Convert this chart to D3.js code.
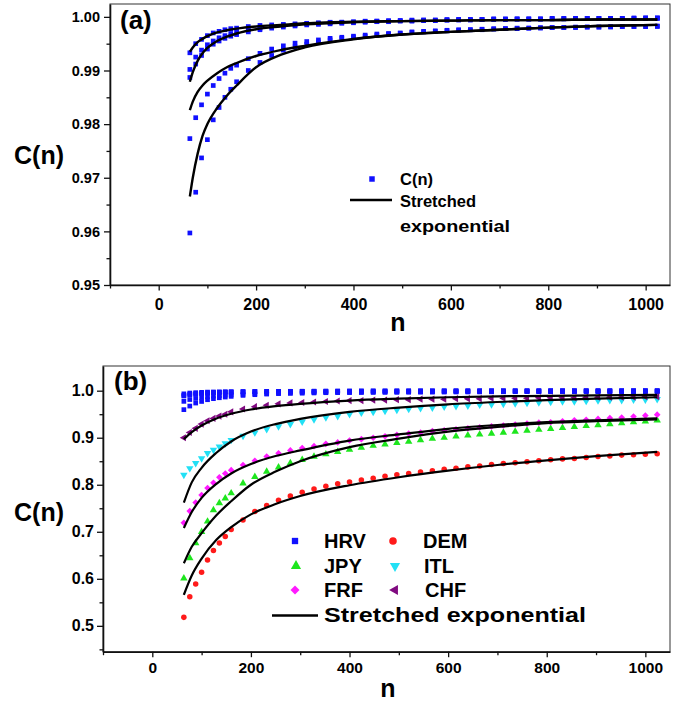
<!DOCTYPE html>
<html>
<head>
<meta charset="utf-8">
<script src="https://cdn.jsdelivr.net/npm/d3@7"></script>
<style>
  body { margin: 0; background: #fff; }
  svg text { font-family: "Liberation Sans", Arial, sans-serif; font-weight: bold; fill: #000; }
</style>
</head>
<body>
<div id="chart"></div>
<script>
// window sizes n (same for every series)
const nValues = [
  64, 76, 88, 100, 112, 124, 136, 148, 160,
  184, 208, 232, 256, 280, 304, 328, 352, 376,
  400, 424, 448, 472, 496, 520, 544, 568, 592,
  616, 640, 664, 688, 712, 736, 760, 784, 808,
  832, 856, 880, 904, 928, 952, 976, 1000, 1024,
];

// HRV series (panel a, also HRV in panel b)
const hrv1 = [
  0.9933, 0.9950, 0.9958, 0.9965, 0.9970, 0.9973, 0.9976, 0.9978, 0.9979,
  0.9982, 0.9984, 0.9985, 0.9986, 0.9987, 0.9988, 0.9989, 0.9990, 0.9990,
  0.9991, 0.9992, 0.9992, 0.9993, 0.9993, 0.9994, 0.9994, 0.9994, 0.9995,
  0.9995, 0.9995, 0.9995, 0.9996, 0.9996, 0.9996, 0.9996, 0.9996, 0.9997,
  0.9997, 0.9997, 0.9997, 0.9997, 0.9997, 0.9997, 0.9998, 0.9998, 0.9998,
];
const hrv2 = [
  0.9902, 0.9925, 0.9938, 0.9948, 0.9955, 0.9961, 0.9965, 0.9969, 0.9972,
  0.9976, 0.9979, 0.9982, 0.9984, 0.9985, 0.9987, 0.9988, 0.9989, 0.9990,
  0.9990, 0.9991, 0.9992, 0.9992, 0.9993, 0.9993, 0.9994, 0.9994, 0.9994,
  0.9995, 0.9995, 0.9995, 0.9996, 0.9996, 0.9996, 0.9996, 0.9996, 0.9997,
  0.9997, 0.9997, 0.9997, 0.9997, 0.9997, 0.9997, 0.9997, 0.9998, 0.9998,
];
const hrv3 = [
  0.9887, 0.9912, 0.9928, 0.9940, 0.9949, 0.9955, 0.9960, 0.9964, 0.9967,
  0.9972, 0.9976, 0.9979, 0.9981, 0.9983, 0.9985, 0.9986, 0.9987, 0.9988,
  0.9989, 0.9990, 0.9991, 0.9991, 0.9992, 0.9992, 0.9993, 0.9993, 0.9994,
  0.9994, 0.9994, 0.9995, 0.9995, 0.9995, 0.9996, 0.9996, 0.9996, 0.9996,
  0.9996, 0.9997, 0.9997, 0.9997, 0.9997, 0.9997, 0.9997, 0.9997, 0.9997,
];
const hrv4 = [
  0.9773, 0.9812, 0.9836, 0.9856, 0.9872, 0.9885, 0.9895, 0.9904, 0.9910,
  0.9922, 0.9932, 0.9940, 0.9946, 0.9951, 0.9954, 0.9957, 0.9960, 0.9962,
  0.9964, 0.9966, 0.9968, 0.9969, 0.9970, 0.9972, 0.9973, 0.9974, 0.9975,
  0.9976, 0.9976, 0.9977, 0.9978, 0.9978, 0.9979, 0.9979, 0.9980, 0.9980,
  0.9980, 0.9981, 0.9981, 0.9981, 0.9982, 0.9982, 0.9982, 0.9982, 0.9983,
];
const hrv5 = [
  0.9597, 0.9673, 0.9737, 0.9771, 0.9808, 0.9831, 0.9850, 0.9865, 0.9879,
  0.9900, 0.9915, 0.9928, 0.9938, 0.9944, 0.9949, 0.9953, 0.9957, 0.9960,
  0.9962, 0.9964, 0.9966, 0.9968, 0.9969, 0.9971, 0.9972, 0.9973, 0.9974,
  0.9975, 0.9976, 0.9976, 0.9977, 0.9978, 0.9978, 0.9979, 0.9979, 0.9980,
  0.9980, 0.9980, 0.9981, 0.9981, 0.9981, 0.9982, 0.9982, 0.9982, 0.9982,
];

// currency series (panel b)
const demValues = [
  0.518, 0.562, 0.589, 0.614, 0.640, 0.660, 0.676, 0.690, 0.705,
  0.725, 0.743, 0.756, 0.767, 0.776, 0.784, 0.791, 0.797, 0.802,
  0.806, 0.810, 0.814, 0.818, 0.821, 0.824, 0.827, 0.830, 0.833,
  0.835, 0.838, 0.840, 0.843, 0.845, 0.847, 0.849, 0.851, 0.853,
  0.855, 0.856, 0.858, 0.860, 0.861, 0.863, 0.864, 0.865, 0.866,
];
const jpyValues = [
  0.601, 0.644, 0.676, 0.700, 0.722, 0.746, 0.761, 0.771, 0.782,
  0.803, 0.817, 0.828, 0.837, 0.846, 0.853, 0.860, 0.865, 0.870,
  0.875, 0.879, 0.883, 0.886, 0.889, 0.892, 0.895, 0.898, 0.900,
  0.903, 0.905, 0.907, 0.909, 0.911, 0.913, 0.915, 0.917, 0.919,
  0.921, 0.923, 0.925, 0.927, 0.929, 0.931, 0.933, 0.935, 0.937,
];
const itlValues = [
  0.821, 0.835, 0.846, 0.856, 0.867, 0.874, 0.881, 0.888, 0.895,
  0.904, 0.911, 0.918, 0.924, 0.929, 0.934, 0.939, 0.943, 0.946,
  0.950, 0.953, 0.955, 0.957, 0.959, 0.961, 0.963, 0.964, 0.966,
  0.967, 0.968, 0.970, 0.971, 0.972, 0.973, 0.974, 0.975, 0.976,
  0.977, 0.977, 0.978, 0.979, 0.980, 0.980, 0.981, 0.981, 0.982,
];
const frfValues = [
  0.719, 0.744, 0.762, 0.778, 0.793, 0.804, 0.816, 0.824, 0.831,
  0.842, 0.851, 0.860, 0.867, 0.873, 0.878, 0.882, 0.887, 0.890,
  0.894, 0.897, 0.900, 0.903, 0.906, 0.909, 0.911, 0.914, 0.916,
  0.918, 0.920, 0.922, 0.924, 0.926, 0.928, 0.930, 0.932, 0.933,
  0.935, 0.937, 0.938, 0.940, 0.942, 0.943, 0.945, 0.947, 0.949,
];
const chfValues = [
  0.900, 0.911, 0.920, 0.929, 0.936, 0.941, 0.946, 0.950, 0.955,
  0.961, 0.966, 0.969, 0.972, 0.974, 0.975, 0.976, 0.977, 0.978,
  0.979, 0.979, 0.980, 0.980, 0.981, 0.981, 0.982, 0.982, 0.982,
  0.983, 0.983, 0.983, 0.984, 0.984, 0.984, 0.984, 0.985, 0.985,
  0.985, 0.985, 0.986, 0.986, 0.986, 0.986, 0.986, 0.987, 0.987,
];

// stretched exponential fits
const fitNA = [64, 70, 80, 90, 100, 120, 140, 160, 200, 250, 300, 400, 500, 600, 700, 800, 900, 1024];
const fitA1 = [0.9935, 0.9943, 0.9953, 0.9959, 0.9964, 0.9971, 0.9975, 0.9978, 0.9982, 0.9985, 0.9988, 0.9991, 0.9992, 0.9993, 0.9994, 0.9994, 0.9995, 0.9995];
const fitA2 = [0.9879, 0.9897, 0.9918, 0.9932, 0.9942, 0.9955, 0.9963, 0.9969, 0.9977, 0.9982, 0.9986, 0.9990, 0.9992, 0.9993, 0.9994, 0.9994, 0.9995, 0.9995];
const fitA3 = [0.9826, 0.9842, 0.9860, 0.9872, 0.9881, 0.9895, 0.9906, 0.9914, 0.9927, 0.9938, 0.9946, 0.9959, 0.9967, 0.9972, 0.9976, 0.9980, 0.9983, 0.9985];
const fitA4 = [0.9665, 0.9700, 0.9745, 0.9778, 0.9800, 0.9830, 0.9853, 0.9872, 0.9906, 0.9929, 0.9943, 0.9958, 0.9967, 0.9972, 0.9976, 0.9980, 0.9983, 0.9985];

const fitNB = [64, 80, 100, 130, 160, 200, 250, 300, 400, 500, 600, 700, 800, 900, 1024];
const chfFit = [0.897, 0.912, 0.926, 0.941, 0.951, 0.960, 0.967, 0.972, 0.979, 0.983, 0.986, 0.988, 0.989, 0.990, 0.991];
const itlFit = [0.762, 0.805, 0.836, 0.868, 0.892, 0.913, 0.929, 0.940, 0.955, 0.964, 0.971, 0.976, 0.980, 0.983, 0.986];
const frfFit = [0.708, 0.742, 0.772, 0.802, 0.824, 0.844, 0.861, 0.873, 0.894, 0.907, 0.919, 0.927, 0.933, 0.937, 0.941];
const jpyFit = [0.633, 0.668, 0.697, 0.735, 0.765, 0.800, 0.828, 0.850, 0.880, 0.898, 0.913, 0.923, 0.931, 0.935, 0.939];
const demFit = [0.566, 0.607, 0.643, 0.683, 0.710, 0.737, 0.759, 0.776, 0.799, 0.816, 0.830, 0.842, 0.852, 0.861, 0.870];

// ticks
const xMajor = [0, 200, 400, 600, 800, 1000];
const xMinor = [-100, 100, 300, 500, 700, 900];
const yMajorA = [0.95, 0.96, 0.97, 0.98, 0.99, 1.00];
const yMinorA = [0.955, 0.965, 0.975, 0.985, 0.995];
const yMajorB = [0.5, 0.6, 0.7, 0.8, 0.9, 1.0];
const yMinorB = [0.45, 0.55, 0.65, 0.75, 0.85, 0.95];

const BLUE = '#1010ff';
const shapeType = {
  square: d3.symbolSquare, circle: d3.symbolCircle, up: d3.symbolTriangle,
  down: d3.symbolTriangle, left: d3.symbolTriangle, diamond: d3.symbolSquare,
};
const shapeTurn = { square: 0, circle: 0, up: 0, down: 180, left: -90, diamond: 45 };

class CorrelationPanel {
  constructor(_config, marks, fits) {
    this.config = {
      svg: _config.svg,
      left: _config.left,
      top: _config.top,
      width: _config.width,
      height: _config.height,
      yDomain: _config.yDomain,
      yMajor: _config.yMajor,
      yMinor: _config.yMinor,
      yFormat: _config.yFormat,
      yFont: _config.yFont,
      xFont: _config.xFont,
      xPad: _config.xPad,
      yPad: _config.yPad,
      tag: _config.tag,
      tagX: _config.tagX,
      tagY: _config.tagY,
      yLabelY: _config.yLabelY,
      xLabelX: _config.xLabelX,
      xLabelY: _config.xLabelY,
      fitWidth: _config.fitWidth,
    };
    this.marks = marks;
    this.fits = fits;
    this.initVis();
  }

  initVis() {
    const vis = this;
    const cfg = vis.config;

    vis.chartArea = cfg.svg.append('g')
      .attr('transform', `translate(${cfg.left},${cfg.top})`);

    vis.xScale = d3.scaleLinear().domain([-100, 1050]).range([0, cfg.width]);
    vis.yScale = d3.scaleLinear().domain(cfg.yDomain).range([cfg.height, 0]);

    vis.chartArea.append('rect')
      .attr('width', cfg.width)
      .attr('height', cfg.height)
      .attr('fill', 'none')
      .attr('stroke', '#333')
      .attr('stroke-width', 1);

    // minor ticks
    vis.chartArea.append('g')
      .attr('transform', `translate(0,${cfg.height})`)
      .call(d3.axisBottom(vis.xScale).tickValues(xMinor).tickSize(3.5).tickFormat(''))
      .call((g) => g.select('.domain').remove());
    vis.chartArea.append('g')
      .call(d3.axisLeft(vis.yScale).tickValues(cfg.yMinor).tickSize(3.5).tickFormat(''))
      .call((g) => g.select('.domain').remove());

    vis.xAxisG = vis.chartArea.append('g')
      .attr('transform', `translate(0,${cfg.height})`)
      .call(d3.axisBottom(vis.xScale).tickValues(xMajor).tickSize(5.5)
        .tickSizeOuter(0).tickPadding(cfg.xPad).tickFormat(d3.format('d')));
    vis.yAxisG = vis.chartArea.append('g')
      .call(d3.axisLeft(vis.yScale).tickValues(cfg.yMajor).tickSize(6)
        .tickSizeOuter(0).tickPadding(cfg.yPad).tickFormat(d3.format(cfg.yFormat)));

    vis.chartArea.selectAll('.tick line').attr('stroke', '#111').attr('stroke-width', 1.3);
    vis.chartArea.selectAll('.domain').attr('stroke', '#111').attr('stroke-width', 1.6);
    vis.xAxisG.selectAll('text').style('font-size', `${cfg.xFont}px`);
    vis.yAxisG.selectAll('text').style('font-size', `${cfg.yFont}px`);

    cfg.svg.append('text')
      .attr('x', 39)
      .attr('y', cfg.yLabelY)
      .attr('dy', '0.35em')
      .attr('text-anchor', 'middle')
      .style('font-size', '25px')
      .text('C(n)');

    cfg.svg.append('text')
      .attr('x', cfg.xLabelX)
      .attr('y', cfg.xLabelY)
      .attr('text-anchor', 'middle')
      .style('font-size', '25px')
      .text('n');

    cfg.svg.append('text')
      .attr('x', cfg.tagX)
      .attr('y', cfg.tagY)
      .style('font-size', '26px')
      .text(cfg.tag);

    vis.renderVis();
  }

  renderVis() {
    const vis = this;

    vis.marks.forEach((s) => {
      const path = d3.symbol(shapeType[s.shape], s.size)();
      vis.chartArea.append('g')
        .selectAll('path')
        .data(s.values.map((v, i) => ({ n: nValues[i], v })))
        .join('path')
        .attr('d', path)
        .attr('fill', s.color)
        .attr('transform', (d) => `translate(${vis.xScale(d.n)},${vis.yScale(d.v)}) rotate(${shapeTurn[s.shape]})`);
    });

    const line = d3.line()
      .x((d) => vis.xScale(d.n))
      .y((d) => vis.yScale(d.v))
      .curve(d3.curveMonotoneX);

    vis.fits.forEach((f) => {
      vis.chartArea.append('path')
        .datum(f.values.map((v, i) => ({ n: f.n[i], v })))
        .attr('d', line)
        .attr('fill', 'none')
        .attr('stroke', '#000')
        .attr('stroke-width', vis.config.fitWidth);
    });
  }
}

function legendMark(svg, shape, color, size, x, y) {
  svg.append('path')
    .attr('d', d3.symbol(shapeType[shape], size)())
    .attr('fill', color)
    .attr('transform', `translate(${x},${y}) rotate(${shapeTurn[shape]})`);
}

function legendText(svg, text, x, y, size, stretch) {
  const t = svg.append('text')
    .attr('x', x)
    .attr('y', y)
    .attr('dy', '0.36em')
    .style('font-size', `${size}px`)
    .text(text);
  if (stretch) t.attr('textLength', stretch).attr('lengthAdjust', 'spacingAndGlyphs');
}

const svg = d3.select('#chart').append('svg')
  .attr('width', 686)
  .attr('height', 702);

// panel (a)
new CorrelationPanel({
  svg,
  left: 110,
  top: 4,
  width: 560,
  height: 281,
  yDomain: [0.95, 1.0024],
  yMajor: yMajorA,
  yMinor: yMinorA,
  yFormat: '.2f',
  yFont: 14.5,
  xFont: 16,
  xPad: 8,
  yPad: 4,
  tag: '(a)',
  tagX: 120,
  tagY: 29,
  yLabelY: 155,
  xLabelX: 398,
  xLabelY: 331,
  fitWidth: 2.4,
}, [hrv1, hrv2, hrv3, hrv4, hrv5].map((values) => ({ values, shape: 'square', color: BLUE, size: 22 })),
[fitA1, fitA2, fitA3, fitA4].map((values) => ({ n: fitNA, values })));

legendMark(svg, 'square', BLUE, 30, 372, 179);
legendText(svg, 'C(n)', 400, 179, 16.5);
svg.append('line')
  .attr('x1', 350).attr('x2', 392)
  .attr('y1', 200).attr('y2', 200)
  .attr('stroke', '#000')
  .attr('stroke-width', 2.4);
legendText(svg, 'Stretched', 400, 201, 16.5);
legendText(svg, 'exponential', 400, 226, 16.5, 110);

// panel (b)
const currencyMarks = [
  { values: demValues, shape: 'circle', color: '#ff1a1a', size: 24 },
  { values: jpyValues, shape: 'up', color: '#1ee61e', size: 24 },
  { values: frfValues, shape: 'diamond', color: '#ff1aff', size: 22 },
  { values: itlValues, shape: 'down', color: '#22e0f5', size: 24 },
  { values: chfValues, shape: 'left', color: '#800a80', size: 22 },
];

new CorrelationPanel({
  svg,
  left: 103,
  top: 366,
  width: 567,
  height: 285.7,
  yDomain: [0.445, 1.0525],
  yMajor: yMajorB,
  yMinor: yMinorB,
  yFormat: '.1f',
  yFont: 16,
  xFont: 15.5,
  xPad: 5,
  yPad: 3,
  tag: '(b)',
  tagX: 114,
  tagY: 390,
  yLabelY: 512,
  xLabelX: 388,
  xLabelY: 697,
  fitWidth: 2.2,
}, [hrv1, hrv2, hrv3, hrv4, hrv5]
  .map((values) => ({ values, shape: 'square', color: BLUE, size: 22 }))
  .concat(currencyMarks),
[chfFit, itlFit, frfFit, jpyFit, demFit].map((values) => ({ n: fitNB, values })));

legendMark(svg, 'square', BLUE, 40, 295, 541);
legendText(svg, 'HRV', 324, 541, 20);
legendMark(svg, 'circle', '#ff1a1a', 45, 393, 541);
legendText(svg, 'DEM', 423, 541, 20);
legendMark(svg, 'up', '#1ee61e', 45, 296, 566);
legendText(svg, 'JPY', 324, 566, 20);
legendMark(svg, 'down', '#22e0f5', 45, 395, 566);
legendText(svg, 'ITL', 424, 566, 20);
legendMark(svg, 'diamond', '#ff1aff', 40, 295, 590);
legendText(svg, 'FRF', 324, 590, 20);
legendMark(svg, 'left', '#800a80', 45, 395, 590);
legendText(svg, 'CHF', 425, 590, 20);
svg.append('line')
  .attr('x1', 272).attr('x2', 318)
  .attr('y1', 615.5).attr('y2', 615.5)
  .attr('stroke', '#000')
  .attr('stroke-width', 2.4);
legendText(svg, 'Stretched exponential', 324, 615, 20, 262);
</script>
</body>
</html>
